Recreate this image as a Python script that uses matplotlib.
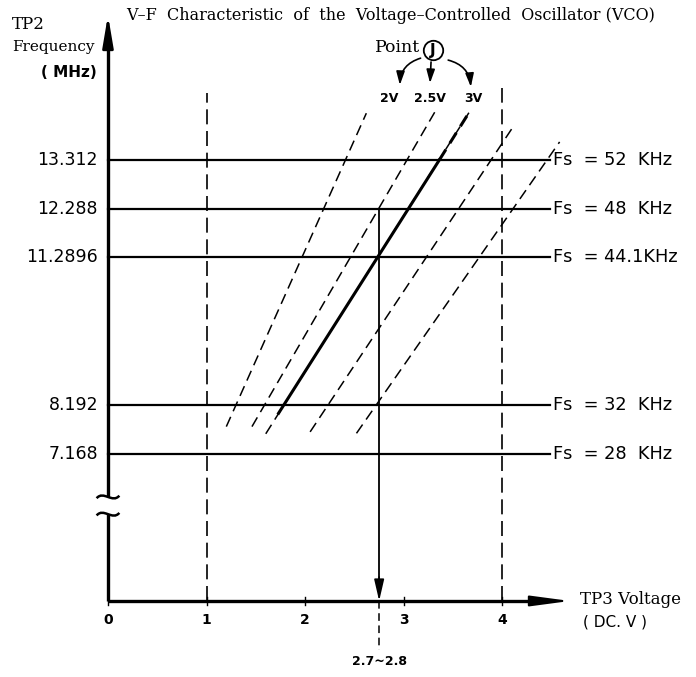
import matplotlib
matplotlib.use('Agg')
import matplotlib.pyplot as plt
from matplotlib.path import Path
from matplotlib.patches import PathPatch

# Fs reference lines (MHz) and their labels
FREQS = [13.312, 12.288, 11.2896, 8.192, 7.168]
FREQ_LABELS = ['13.312', '12.288', '11.2896', '8.192', '7.168']
FS_LABELS = ['Fs  = 52  KHz', 'Fs  = 48  KHz', 'Fs  = 44.1KHz',
             'Fs  = 32  KHz', 'Fs  = 28  KHz']

X_TICKS = [0, 1, 2, 3, 4]
X_TICK_LABELS = ['0', '1', '2', '3', '4']

# V-F characteristic lines (volts, MHz)
VF_V_LOW = [1.20, 1.46, 1.60, 2.05, 2.52]
VF_F_LOW = [7.74, 7.74, 7.59, 7.63, 7.60]
VF_V_HIGH = [2.62, 3.33, 3.66, 4.10, 4.58]
VF_F_HIGH = [14.29, 14.37, 14.30, 13.98, 13.69]
NOMINAL = 2                    # centre curve, solid in the middle
SOLID_V = [1.73, 3.36]
SOLID_F = [8.02, 13.312]

LOCK_V = 2.75                  # 2.7~2.8 V
LOCK_F = 12.288
GUIDE_V = [1, 4]
GUIDE_TOP = [14.71, 14.82]

POINT_J_LABELS = ['2V', '2.5V', '3V']

# drawing frame (broken frequency axis, origin drawn at Y0)
Y0 = 4.096
X_END = 4.686
Y_END = 16.342
BREAK_HI = 6.27
BREAK_LO = 5.91

SANS = 'DejaVu Sans'
SERIF = 'DejaVu Serif'


def break_mark(ax, y, half_w=0.115, h=0.09):
    """Little tilde across the frequency axis."""
    verts = [(-half_w, y - h * 0.3), (-half_w * 0.4, y + h * 1.6),
             (half_w * 0.4, y - h * 1.6), (half_w, y + h * 0.3)]
    codes = [Path.MOVETO, Path.CURVE4, Path.CURVE4, Path.CURVE4]
    ax.add_patch(PathPatch(Path(verts, codes), fill=False, lw=1.8, ec='k'))


def main():
    fig = plt.figure(figsize=(6.96, 6.77), dpi=100)
    ax = fig.add_axes([0, 0, 1, 1])
    ax.set_xlim(-1.095, 5.963)
    ax.set_ylim(2.507, 16.656)
    ax.axis('off')

    # axes with arrows
    ax.plot([0, 0], [BREAK_HI, Y_END - 0.4], color='k', lw=2.4, solid_capstyle='butt')
    ax.plot([0, 0], [Y0, BREAK_LO], color='k', lw=2.4, solid_capstyle='butt')
    ax.annotate('', xy=(0, Y_END), xytext=(0, Y_END - 0.6),
                arrowprops=dict(arrowstyle='-|>,head_length=1.9,head_width=0.32',
                                mutation_scale=10, lw=2, color='k',
                                shrinkA=0, shrinkB=0))
    ax.plot([0, X_END - 0.3], [Y0, Y0], color='k', lw=2.4, solid_capstyle='butt')
    ax.annotate('', xy=(X_END, Y0), xytext=(X_END - 0.4, Y0),
                arrowprops=dict(arrowstyle='-|>,head_length=2.4,head_width=0.32',
                                mutation_scale=10, lw=1.5, color='k',
                                shrinkA=0, shrinkB=0))

    # axis break marks
    for yb in [BREAK_HI, BREAK_LO]:
        break_mark(ax, yb)

    # Fs horizontal lines
    for f, lab, fs in zip(FREQS, FREQ_LABELS, FS_LABELS):
        ax.plot([0, 4.48], [f, f], color='k', lw=1.6)
        ax.text(-0.10, f, lab, ha='right', va='center', fontsize=12.5, family=SANS)
        ax.text(4.51, f, fs, ha='left', va='center', fontsize=12.8, family=SANS)

    # x ticks
    for v, lab in zip(X_TICKS, X_TICK_LABELS):
        ax.plot([v, v], [Y0 - 0.08, Y0 + 0.08], color='k', lw=1)
        ax.text(v, Y0 - 0.4, lab, ha='center', va='center', fontsize=10,
                fontweight='bold', family=SANS)

    # guide lines at 1 V and 4 V
    for v, top in zip(GUIDE_V, GUIDE_TOP):
        ax.plot([v, v], [Y0, top], color='k', lw=1.2, ls=(0, (9, 4)))

    # V-F characteristic lines
    for i in range(len(VF_V_LOW)):
        ax.plot([VF_V_LOW[i], VF_V_HIGH[i]], [VF_F_LOW[i], VF_F_HIGH[i]],
                color='k', lw=1.1, ls=(0, (7, 4)))
    ax.plot(SOLID_V, SOLID_F, color='k', lw=2.2)
    ax.plot([SOLID_V[1], VF_V_HIGH[NOMINAL]], [SOLID_F[1], VF_F_HIGH[NOMINAL]],
            color='k', lw=2.2, ls=(0, (4, 2.5)))

    # lock point 2.7~2.8 V
    ax.plot([LOCK_V, LOCK_V], [LOCK_F, Y0 + 0.4], color='k', lw=1.3)
    ax.annotate('', xy=(LOCK_V, Y0), xytext=(LOCK_V, Y0 + 0.5),
                arrowprops=dict(arrowstyle='-|>,head_length=1.3,head_width=0.3',
                                mutation_scale=10, lw=1.2, color='k',
                                shrinkA=0, shrinkB=0))
    ax.plot([LOCK_V, LOCK_V], [Y0, 3.07], color='k', lw=1.1, ls=(0, (5, 3)))
    ax.text(LOCK_V, 2.84, '2.7~2.8', ha='center', va='center', fontsize=9,
            fontweight='bold', family=SANS)

    # Point J
    ax.text(2.94, 15.67, 'Point', ha='center', va='center', fontsize=12.5, family=SERIF)
    ax.plot([3.296], [15.61], marker='o', ms=14, mfc='none', mec='k', mew=1.3)
    ax.text(3.296, 15.61, 'J', ha='center', va='center', fontsize=11,
            fontweight='bold', family=SANS)
    starts = [(3.17, 15.44), (3.276, 15.36), (3.45, 15.40)]
    ends = [(2.96, 14.88), (3.266, 14.92), (3.68, 14.84)]
    rads = [0.35, 0.0, -0.35]
    for s, e, r in zip(starts, ends, rads):
        ax.annotate('', xy=e, xytext=s,
                    arrowprops=dict(arrowstyle='-|>,head_length=0.8,head_width=0.25',
                                    mutation_scale=10, lw=1.2, color='k',
                                    shrinkA=0, shrinkB=0,
                                    connectionstyle=f'arc3,rad={r}'))
    for x, lab in zip([2.85, 3.266, 3.70], POINT_J_LABELS):
        ax.text(x, 14.6, lab, ha='center', va='center', fontsize=9,
                fontweight='bold', family=SANS)

    # titles and axis labels
    ax.text(2.87, 16.34, 'V\u2013F  Characteristic  of  the  Voltage\u2013Controlled  Oscillator (VCO)',
            ha='center', va='center', fontsize=11.5, family=SERIF)
    ax.text(-0.975, 16.15, 'TP2', ha='left', va='center', fontsize=12, family=SERIF)
    ax.text(-0.975, 15.67, 'Frequency', ha='left', va='center', fontsize=11, family=SERIF)
    ax.text(-0.11, 15.15, '( MHz)', ha='right', va='center', fontsize=11,
            fontweight='bold', family=SANS)
    ax.text(4.79, 4.12, 'TP3 Voltage', ha='left', va='center', fontsize=12, family=SERIF)
    ax.text(4.82, 3.66, '( DC. V )', ha='left', va='center', fontsize=11, family=SANS)

    fig.savefig('out.png', dpi=100, facecolor='white')


if __name__ == '__main__':
    main()
